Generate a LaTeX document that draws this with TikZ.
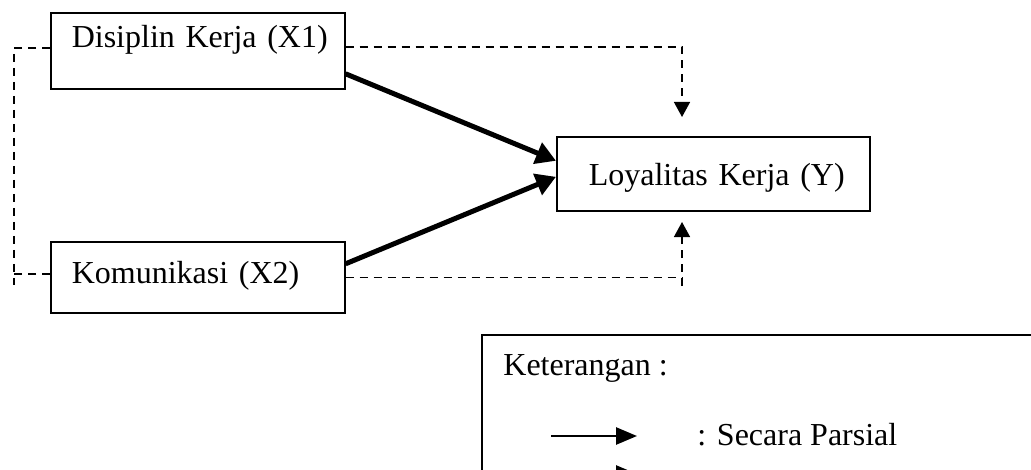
\documentclass[tikz,border=0pt]{standalone}
\usepackage{fontspec}
\setmainfont{Liberation Serif}
\usetikzlibrary{arrows.meta}

\begin{document}
\begin{tikzpicture}[
        x=0.5pt, y=-0.5pt,
        every node/.style={font=\fontsize{16}{19}\selectfont, inner sep=0pt},
        kotak/.style={draw, line width=0.8pt, anchor=north west, align=left, inner xsep=10.5pt},
        parsial/.style={line width=2.5pt, -{Triangle[length=10pt, width=11pt]}},
        garis/.style={line width=0.75pt, dash pattern=on 4pt off 3pt},
        simultan/.style={garis, -{Triangle[length=7.5pt, width=8pt]}}
    ]
 \useasboundingbox (0,0) rectangle (1031,470);
 \clip (0,0) rectangle (1031,470);

 \node[kotak, text width=126pt, text height=17.5pt, text depth=20.5pt] (dis) at (50,12) {\mbox{Disiplin Kerja (X1)}};
 \node[kotak, text width=126pt, text height=21pt, text depth=14.5pt] (kom) at (50,241) {\mbox{Komunikasi (X2)}};
 \node[kotak, inner xsep=16pt, text width=124.5pt, text height=24.5pt, text depth=12.5pt] (loy) at (556,136) {\mbox{Loyalitas Kerja (Y)}};

 % partial effects
 \draw[parsial] ([yshift=-11.5pt]dis.east) -- ([yshift=6.5pt]loy.west);
 \draw[parsial] ([yshift=6.75pt]kom.east) -- ([yshift=-1.5pt]loy.west);

 % simultaneous effect
 \coordinate (atas) at (682,117);
 \coordinate (bawah) at (682,286);
 \coordinate (bawahtip) at (682,222);
 \coordinate (kiri) at (14,285);
 \draw[simultan] ([yshift=2pt]dis.east) -| (atas);
 \draw[garis] (kom.east) -- (kom.east -| bawah);
 \draw[simultan] (bawah) -- (bawahtip);
 \draw[garis] ([yshift=1.5pt]dis.west) -| (kiri);
 \draw[garis] ([yshift=1.75pt]kom.west) -- ++(-36,0);

 % legend
 \node[draw, line width=0.8pt, anchor=north west, minimum width=320pt, minimum height=100pt] (ket) at (481,334) {};
 \node[anchor=base west] (judul) at (503,375) {Keterangan :};
 \coordinate (p1) at (551,436);
 \coordinate (p2) at (637,436);
 \coordinate (s1) at (551,474);
 \coordinate (s2) at (637,474);
 \draw[line width=1.3pt, -{Triangle[length=10.5pt, width=8.5pt]}] (p1) -- (p2);
 \draw[garis, line width=1.3pt, -{Triangle[length=10.5pt, width=8.5pt]}] (s1) -- (s2);
 \node[anchor=base west] (ketp) at (697,445) {: Secara Parsial};
\end{tikzpicture}
\end{document}
